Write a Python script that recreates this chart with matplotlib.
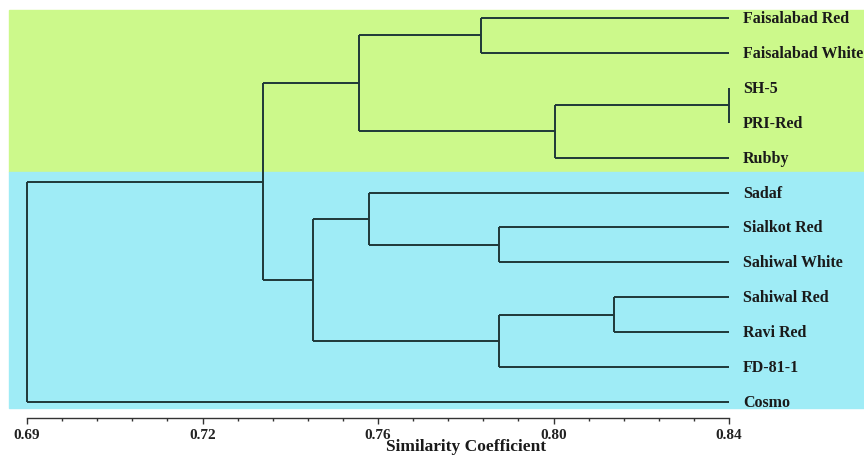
import matplotlib
matplotlib.use("Agg")
import matplotlib.pyplot as plt
from matplotlib.patches import Rectangle
import numpy as np

# ---- data ----
leaves = ["Faisalabad Red", "Faisalabad White", "SH-5", "PRI-Red", "Rubby",
          "Sadaf", "Sialkot Red", "Sahiwal White", "Sahiwal Red", "Ravi Red",
          "FD-81-1", "Cosmo"]
# merges: child_a, child_b, similarity height; leaves are 0..11, new nodes 12..
merge_a = [2, 0, 12, 13, 6, 5, 8, 18, 17, 15, 21]
merge_b = [3, 1, 4, 14, 7, 16, 9, 10, 19, 20, 11]
merge_sim = [0.8400, 0.7870, 0.8028, 0.7609, 0.7909, 0.7631, 0.8154, 0.7909,
             0.7511, 0.7404, 0.6900]
xticks_vals = [0.69, 0.7275, 0.765, 0.8025, 0.84]
xtick_labels = ["0.69", "0.72", "0.76", "0.80", "0.84"]
xlabel = "Similarity Coefficient"

# ---- figure ----
fig = plt.figure(figsize=(8.64, 4.56), dpi=100)
W, H = 864, 456
ax = fig.add_axes([27 / W, (H - 419) / H, 702 / W, (419 - 11) / H])
ax.set_facecolor("none")
ax.set_zorder(2)

n = len(leaves)
ypos = {i: float(i) for i in range(n)}
xpos = {i: 0.84 for i in range(n)}
line_col = "#1f3838"
lw = 1.4
for k, (a, b, h) in enumerate(zip(merge_a, merge_b, merge_sim)):
    node = n + k
    for c in (a, b):
        ax.plot([h, xpos[c]], [ypos[c], ypos[c]], color=line_col, lw=lw,
                solid_capstyle="butt", clip_on=False)
    ax.plot([h, h], [ypos[a], ypos[b]], color=line_col, lw=lw,
            solid_capstyle="butt", clip_on=False)
    ypos[node] = (ypos[a] + ypos[b]) / 2
    xpos[node] = h

unit = (403 - 19) / 11.0
y_top = -8 / unit
y_bot = 11 + 16 / unit
ax.set_ylim(y_bot, y_top)
ax.set_xlim(0.69, 0.84)

# background bands (figure coords)
green = "#ccf98b"
cyan = "#9fecf6"
fig.patches.append(Rectangle((9 / W, (H - 173) / H), 1 - 9 / W, (173 - 11) / H,
                             transform=fig.transFigure, color=green, zorder=0))
fig.patches.append(Rectangle((9 / W, (H - 409) / H), 1 - 9 / W, (409 - 173) / H,
                             transform=fig.transFigure, color=cyan, zorder=0))

# leaf labels
for i, name in enumerate(leaves):
    ax.annotate(name, xy=(0.84, i), xytext=(10, 0), textcoords="offset points",
                ha="left", va="center", fontsize=11.5, fontweight="bold",
                family="Liberation Serif", color="#1a1a1a", annotation_clip=False)

# axes styling
for s in ["top", "right", "left"]:
    ax.spines[s].set_visible(False)
ax.spines["bottom"].set_color("#333333")
ax.spines["bottom"].set_linewidth(1.0)
ax.set_yticks([])
ax.set_xticks(xticks_vals)
ax.set_xticklabels(xtick_labels, fontsize=11, fontweight="bold",
                   family="Liberation Serif", color="#222222")
minor = []
for i in range(len(xticks_vals) - 1):
    minor += list(np.linspace(xticks_vals[i], xticks_vals[i + 1], 6)[1:-1])
ax.set_xticks(minor, minor=True)
ax.tick_params(axis="x", which="major", direction="out", length=4, width=1.0,
               color="#333333", pad=3)
ax.tick_params(axis="x", which="minor", direction="out", length=2.5, width=1.0,
               color="#333333")
ax.text(466 / W, (H - 447) / H, xlabel, transform=fig.transFigure,
        ha="center", va="center", fontsize=12.5, fontweight="bold",
        family="Liberation Serif", color="#1a1a1a")

fig.savefig("out.png", dpi=100)
